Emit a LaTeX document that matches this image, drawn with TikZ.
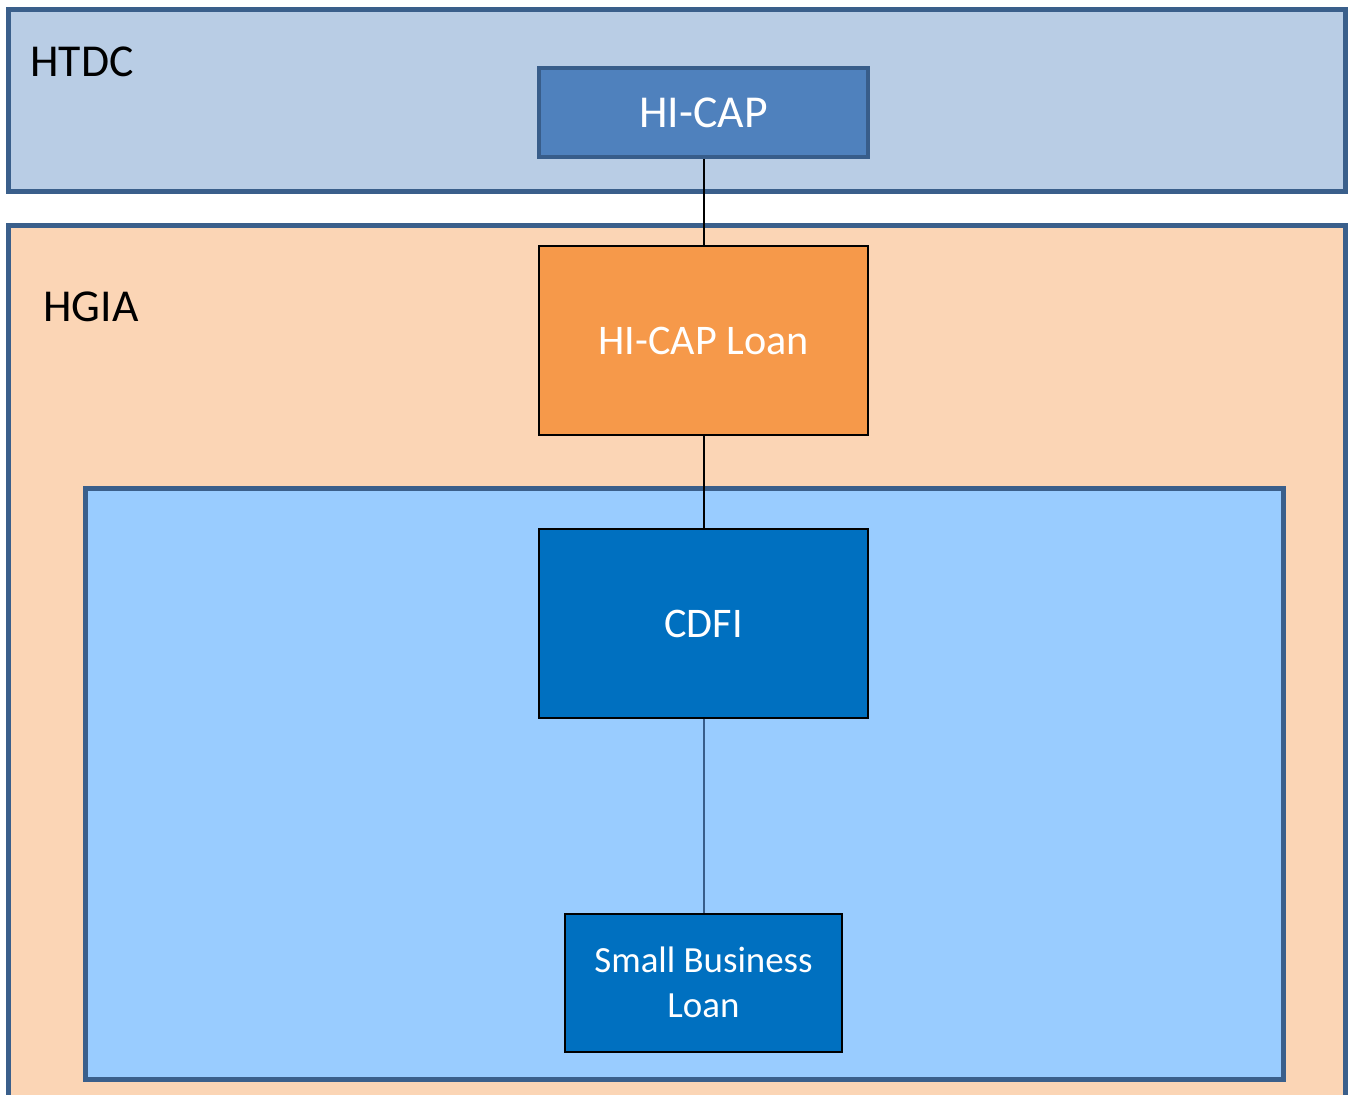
\documentclass[tikz,border=0pt]{standalone}
\usepackage{xcolor}
\usepackage{fontspec}
\setmainfont{Carlito}
\usepackage{tikz}

\definecolor{frameblue}{HTML}{3A5F8B}
\definecolor{htdcfill}{HTML}{B9CDE5}
\definecolor{hgiafill}{HTML}{FBD5B5}
\definecolor{innerfill}{HTML}{99CCFF}
\definecolor{capfill}{HTML}{4F81BD}
\definecolor{capline}{HTML}{385D8A}
\definecolor{loanfill}{HTML}{F6994A}
\definecolor{cdfifill}{HTML}{0070C0}

\begin{document}
\begin{tikzpicture}[x=0.02cm,y=-0.02cm]
			\tikzstyle{frame} = [draw=frameblue, line width=0.1cm, inner sep=0pt]
			\tikzstyle{title} = [anchor=base west, inner sep=0pt, font=\fontsize{26}{31}\selectfont]
			\tikzstyle{unit} = [draw, line width=0.04cm, text=white, inner sep=0pt, align=center]
			\tikzset{edge/.style = {-, line width=0.04cm}}
			
			\useasboundingbox (0,0) rectangle (1352,1095);
			
			\node[frame, fill=htdcfill, minimum width=26.76cm, minimum height=3.66cm](htdc) at (677,100.5) {};
			\node[frame, fill=hgiafill, minimum width=26.76cm, minimum height=17.8cm](hgia) at (677,670) {};
			\node[frame, fill=innerfill, minimum width=23.96cm, minimum height=11.84cm](inner) at (684.5,784) {};
			
			\node[title](htdclabel) at (30,77) {HTDC};
			\node[title](hgialabel) at (43,321) {HGIA};
			
			\node[unit, draw=capline, line width=0.08cm, fill=capfill, minimum width=6.6cm, minimum height=1.78cm, font=\fontsize{26}{31}\selectfont](hicap) at (703.5,112.5) {HI-CAP};
			\node[unit, fill=loanfill, minimum width=6.57cm, minimum height=3.78cm, font=\fontsize{24}{29}\selectfont](loan) at (703.5,340.5) {HI-CAP Loan};
			\node[unit, fill=cdfifill, minimum width=6.57cm, minimum height=3.78cm, font=\fontsize{24}{29}\selectfont](cdfi) at (703.5,623.5) {CDFI};
			\node[unit, fill=cdfifill, minimum width=5.55cm, minimum height=2.77cm, font=\fontsize{21}{25.6}\selectfont](sbl) at (703.5,982.75) {Small Business\\Loan};
			
			\draw[edge](hicap) to (loan);
			\draw[edge](loan) to (cdfi);
			\draw[edge, draw=capline](cdfi) to (sbl);
			
\end{tikzpicture}
\end{document}
